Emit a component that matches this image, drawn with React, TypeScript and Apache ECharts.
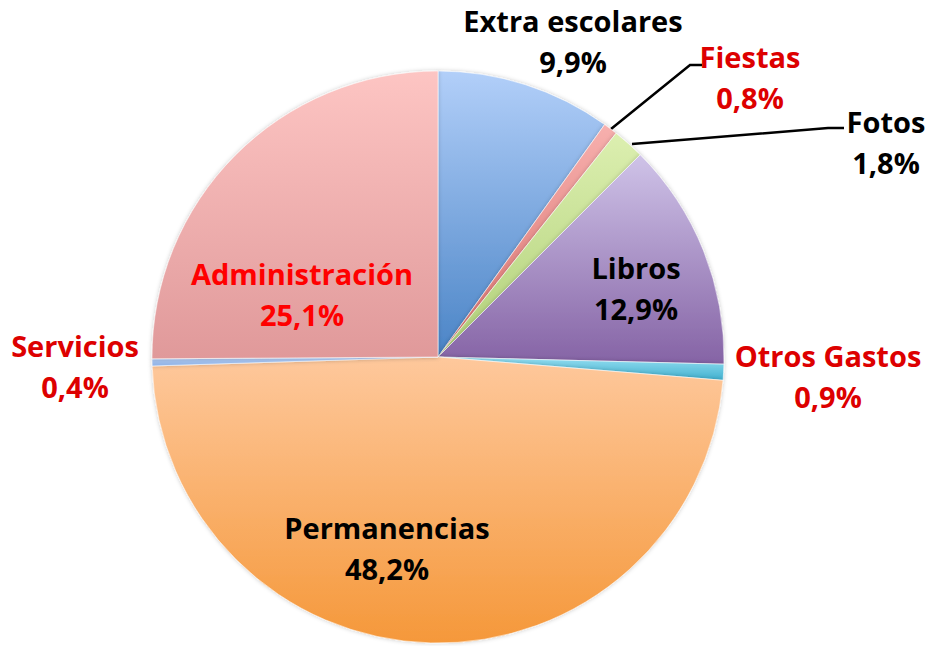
import React, { useEffect, useRef } from "react";
import * as echarts from "echarts";

const categories = [
  "Extra escolares",
  "Fiestas",
  "Fotos",
  "Libros",
  "Otros Gastos",
  "Permanencias",
  "Servicios",
  "Administración",
];
const values = [9.9, 0.8, 1.8, 12.9, 0.9, 48.2, 0.4, 25.1];

const topColors = ["#b2cff9", "#f7b0ae", "#dcefb0", "#cfc3e8", "#95def1", "#fec89c", "#b3cdf3", "#fdc5c3"];
const bottomColors = ["#4a84c6", "#d8706c", "#b0d078", "#8563a5", "#40b0cf", "#f5983a", "#8fb2e6", "#e0999a"];
const labelColors = ["#000000", "#dd0000", "#000000", "#000000", "#dd0000", "#000000", "#dd0000", "#ff0000"];

// label block centres (layout only)
const labelPos: [number, number][] = [
  [573, 41],
  [750, 77],
  [886, 142],
  [636, 288],
  [828, 376],
  [387, 548],
  [75, 366],
  [302, 294],
];
const labelLines: Record<number, [number, number][]> = {
  1: [[611, 129], [690, 65], [702, 65]],
  2: [[632, 144], [828, 128], [844, 128]],
};

export default function App() {
  const ref = useRef<HTMLDivElement>(null);
  useEffect(() => {
    document.body.style.margin = "0";
    const chart = echarts.init(ref.current!, null, { renderer: "svg" });
    const data = categories.map((name, i) => ({
      name,
      value: values[i],
      itemStyle: {
        color: new echarts.graphic.LinearGradient(0, 0, 0, 1, [
          { offset: 0, color: topColors[i] },
          { offset: 1, color: bottomColors[i] },
        ]),
      },
      label: { color: labelColors[i] },
      labelLine: { show: i === 1 || i === 2 },
    }));
    chart.setOption({
      animation: false,
      backgroundColor: "#ffffff",
      series: [
        {
          type: "pie",
          center: [438, 357],
          radius: 286,
          startAngle: 90,
          clockwise: true,
          avoidLabelOverlap: false,
          data,
          itemStyle: {
            borderColor: "rgba(255,255,255,0.55)",
            borderWidth: 1,
            shadowBlur: 4,
            shadowColor: "rgba(0,0,0,0.22)",
          },
          label: {
            show: true,
            position: "outside",
            fontFamily: "'Open Sans', Lato, sans-serif",
            fontWeight: "bold",
            fontSize: 29,
            lineHeight: 41,
            align: "center",
            formatter: (p: any) => p.name + "\n" + Number(p.value).toFixed(1).replace(".", ",") + "%",
          },
          labelLine: {
            show: false,
            lineStyle: { color: "#000000", width: 2.5 },
          },
          labelLayout: (params: any) => {
            const i = params.dataIndex;
            const [x, y] = labelPos[i];
            const res: any = { x, y, align: "center", verticalAlign: "middle", hideOverlap: false, moveOverlap: false };
            if (labelLines[i]) res.labelLinePoints = labelLines[i];
            return res;
          },
        },
      ],
    });
    return () => chart.dispose();
  }, []);
  return <div ref={ref} style={{ width: 930, height: 646 }} />;
}
